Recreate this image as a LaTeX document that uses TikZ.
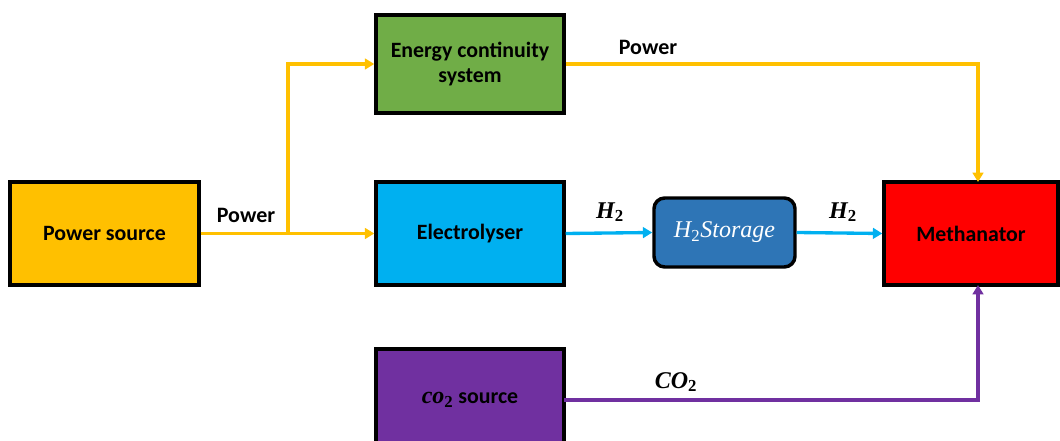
\documentclass[tikz,border=0pt]{standalone}
\usepackage{fontspec}
\setmainfont{Carlito}
\newfontfamily\mathlike{Liberation Serif}
\usetikzlibrary{arrows.meta}
\definecolor{cyel}{HTML}{FFC000}
\definecolor{cgrn}{HTML}{70AD47}
\definecolor{ccyn}{HTML}{00B0F0}
\definecolor{cblu}{HTML}{2E75B6}
\definecolor{cred}{HTML}{FF0000}
\definecolor{cpur}{HTML}{7030A0}
\newcommand{\mi}[1]{{\mathlike\itshape #1}}
\newcommand{\mup}[1]{{\mathlike #1}}
\begin{document}
\begin{tikzpicture}[x=0.75pt,y=-0.75pt,
  blk/.style={draw=black,line width=2.6pt,inner sep=0pt,align=center,font=\fontsize{16.4}{19}\selectfont\bfseries},
  conn/.style={line width=2.5pt,-{Triangle[length=7pt,width=8pt]}},
  lbl/.style={font=\fontsize{16.5}{19}\selectfont\bfseries},
  mlbl/.style={font=\fontsize{18}{20}\selectfont\bfseries}]
\useasboundingbox (0,0) rectangle (1060,441);
\begin{scope}
\clip (0,0) rectangle (1060,441);
\node[blk,fill=cyel,minimum width=141.75pt,minimum height=77.25pt] (ps) at (104.5,233.5) {Power source};
\node[blk,fill=cgrn,minimum width=141pt,minimum height=73.5pt] (ec) at (470,64) {Energy continuity\\system};
\node[blk,fill=ccyn,minimum width=141pt,minimum height=77.25pt] (el) at (470,233.5) {Electrolyser};
\node[blk,fill=cblu,rounded corners=8pt,minimum width=105.75pt,minimum height=51.75pt,text=white,font=\fontsize{18}{20}\selectfont] (hs) at (724.5,232.5) {\mi{H}\textsubscript{\mup{2}}\mi{Storage}};
\node[blk,fill=cred,minimum width=130.5pt,minimum height=77.25pt] (me) at (971,233.5) {Methanator};
\node[blk,fill=cpur,minimum width=141pt,minimum height=76.5pt] (co) at (470,400) {{\fontsize{18}{20}\selectfont\mi{co}\textsubscript{\mup{2}}} source};
\end{scope}
\coordinate (br) at (288,233.5);
\coordinate (mt) at (978,182);
\coordinate (mb) at (978,285);
\coordinate (cs) at (564,400);
\draw[conn,cyel] (ps.east) -- (el.west);
\draw[conn,cyel] (br) |- (ec.west);
\draw[conn,cyel] (ec.east) -| (mt);
\draw[conn,ccyn] (el.east) -- (hs.west);
\draw[conn,ccyn] (hs.east) -- (me.west);
\draw[conn,cpur] (cs) -| (mb);
\node[lbl] (l1) at (246,215) {Power};
\node[lbl] (l2) at (648,47) {Power};
\node[mlbl] (l3) at (610,212) {\mi{H}\textsubscript{\mup{2}}};
\node[mlbl] (l4) at (843,212) {\mi{H}\textsubscript{\mup{2}}};
\node[mlbl] (l5) at (676,382) {\mi{CO}\textsubscript{\mup{2}}};
\end{tikzpicture}
\end{document}
